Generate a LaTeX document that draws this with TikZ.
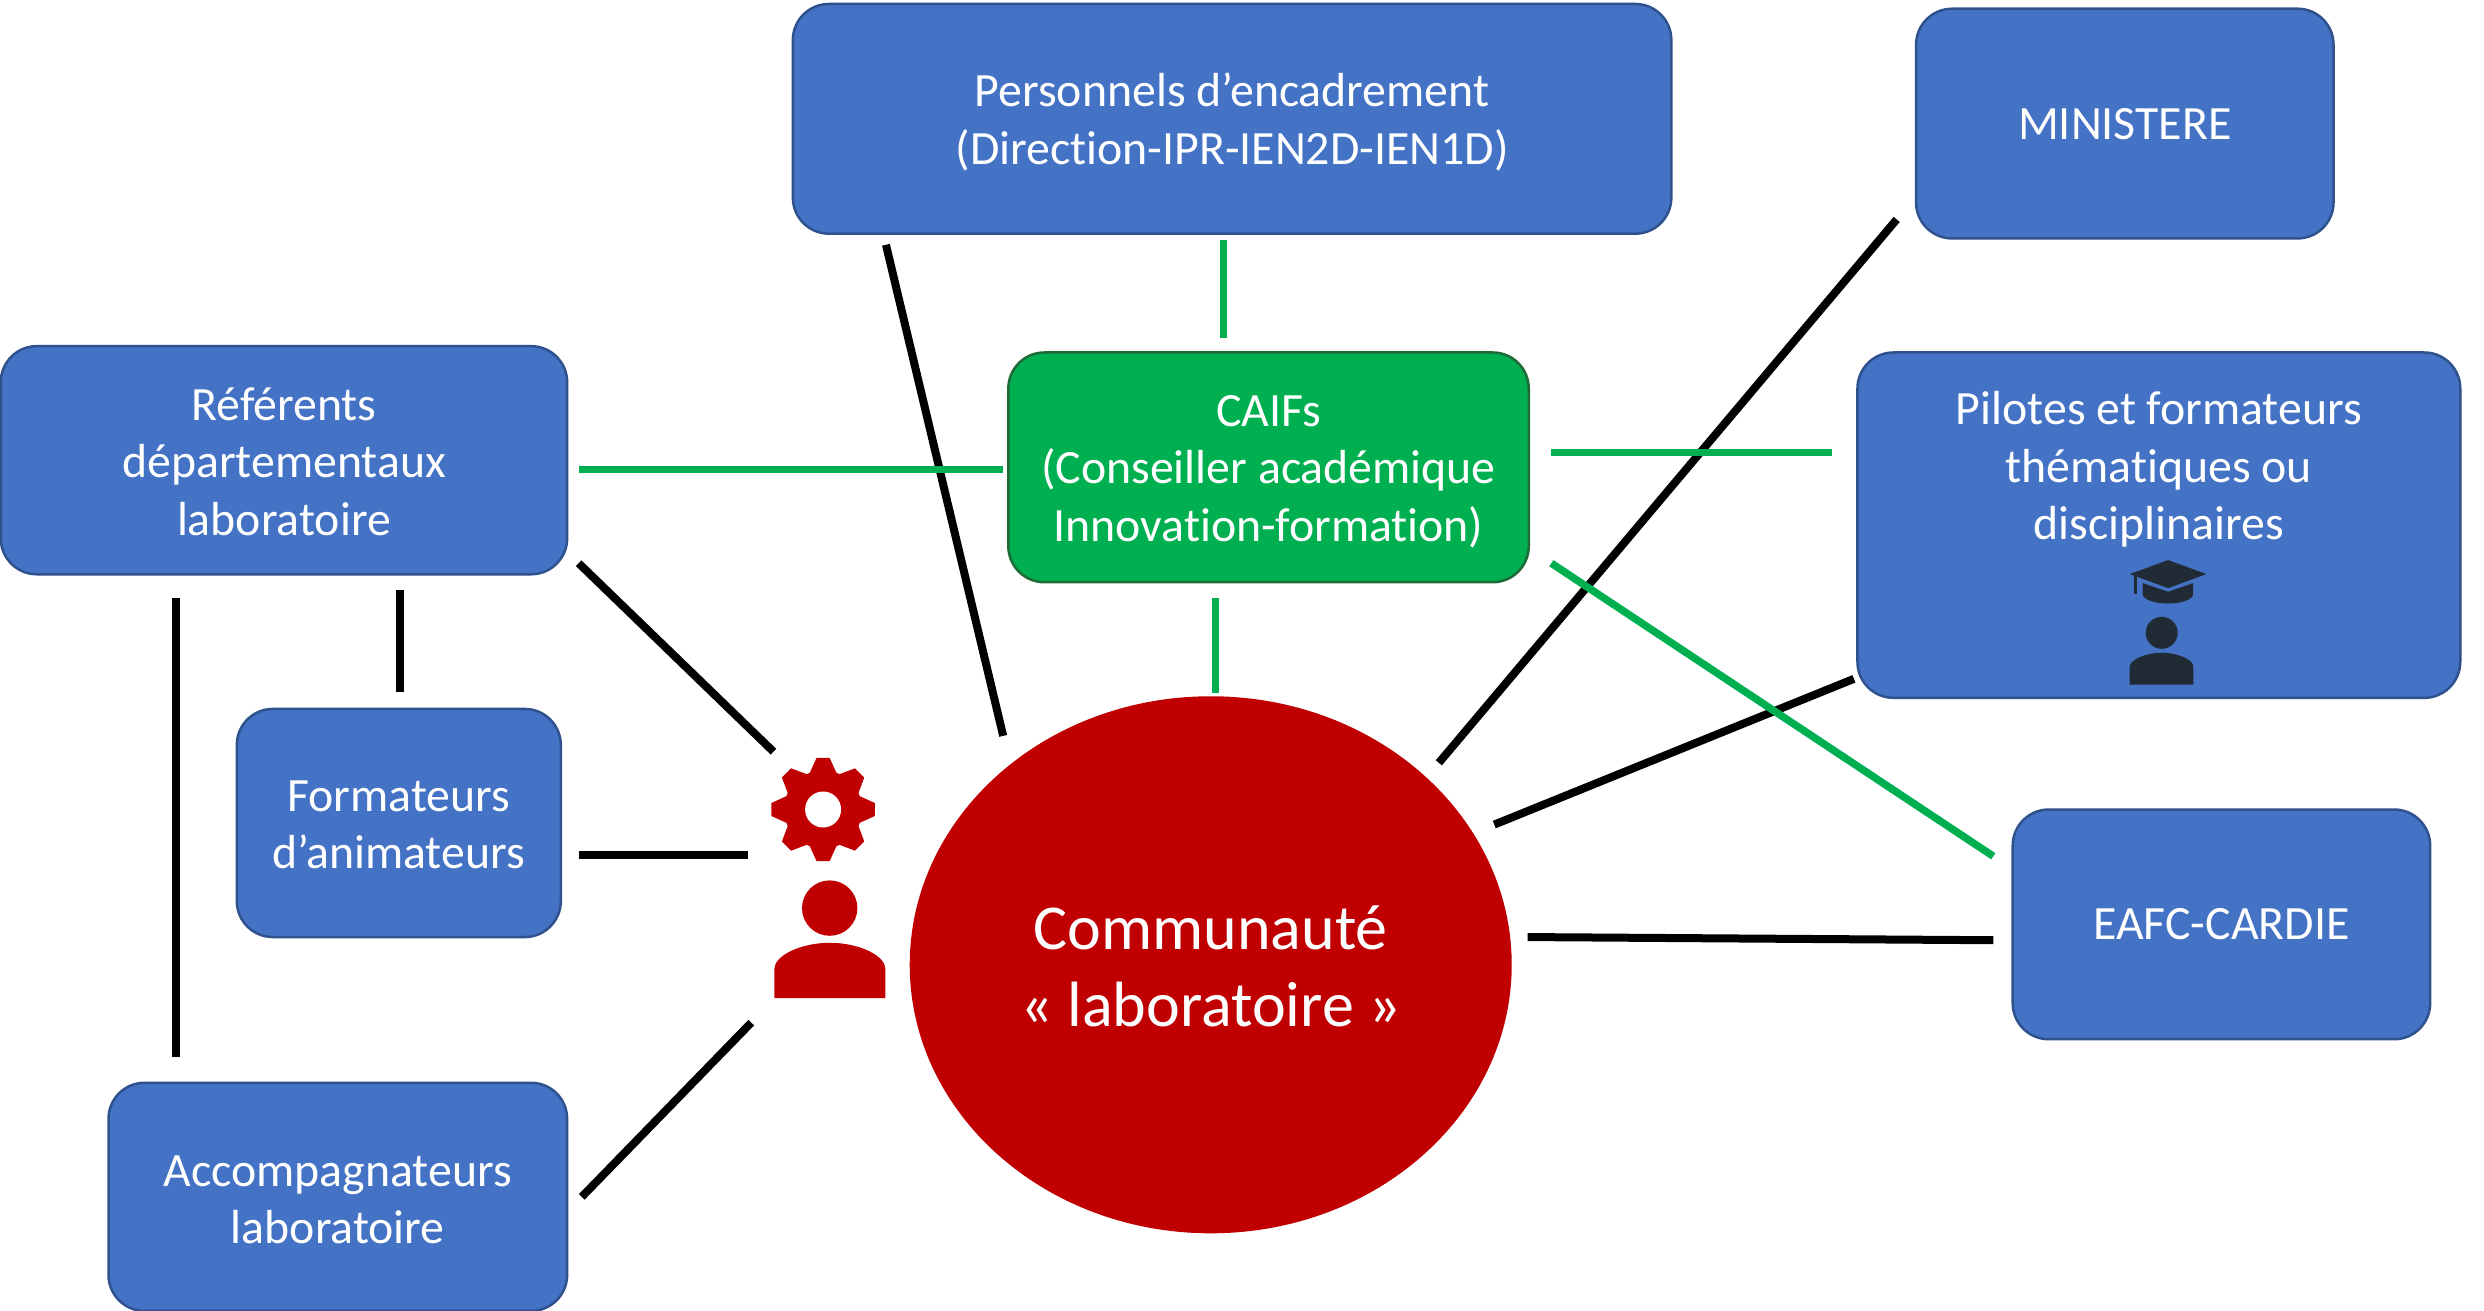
\documentclass[tikz,border=0pt]{standalone}
\usepackage{fontspec}
\setmainfont[Ligatures=CommonOff]{Carlito}
\usetikzlibrary{shapes.geometric}
\definecolor{bluefill}{HTML}{4472C4}
\definecolor{blueedge}{HTML}{2F528F}
\definecolor{greenfill}{HTML}{00B050}
\definecolor{greenedge}{HTML}{1E6B38}
\definecolor{redfill}{HTML}{C00000}
\definecolor{icondark}{HTML}{212B36}
\tikzset{
  textpos/.style={text height=#1pt,text depth=0pt},
  labeltext/.style={text=white,align=center,inner sep=0pt,outer sep=0pt,font=\fontsize{47.8}{57.5}\selectfont},
  box/.style n args={2}{labeltext,draw=blueedge,fill=bluefill,line width=2.5pt,rounded corners=36pt,
    minimum width=#1*1.5842pt,minimum height=#2*1.5842pt},
  greenbox/.style n args={2}{box={#1}{#2},draw=greenedge,fill=greenfill},
  blackline/.style={draw=black,line width=8pt},
  greenline/.style={draw=greenfill,line width=7.5pt},
}
\begin{document}
\begin{tikzpicture}[x=1.5842pt,y=-1.5842pt]
\useasboundingbox (-0.25,-0.5) rectangle (1567.75,827.05);
\node[box={554.5}{145},textpos=91] (pers) at (777.5,74.5) {Personnels d’encadrement\\(Direction-IPR-IEN2D-IEN1D)};
\node[box={263.5}{145},textpos=32] (mini) at (1341,77.5) {MINISTERE};
\node[box={357.5}{144},textpos=150] (ref) at (179,290) {Référents\\départementaux\\laboratoire};
\node[greenbox={328.5}{145},textpos=148] (caif) at (800.5,294.5) {CAIFs\\(Conseiller académique\\Innovation-formation)};
\node[box={380.5}{218}] (pil) at (1362.5,331) {};
\node[labeltext,textpos=143.3] (piltxt) at (1362.5,295) {Pilotes et formateurs\\thématiques ou\\disciplinaires};
\node[box={204.5}{144},textpos=91] (form) at (251.5,519) {Formateurs\\d’animateurs};
\node[box={263.5}{145},textpos=30] (eafc) at (1402,583) {EAFC-CARDIE};
\node[box={289.5}{144},textpos=94] (acc) at (213,755) {Accompagnateurs\\laboratoire};
\node[ellipse,fill=redfill,minimum width=380*1.5842pt,minimum height=339*1.5842pt,inner sep=0pt,outer sep=0pt,
  text=white,align=center,font=\fontsize{64}{77}\selectfont,textpos=124] (comm) at (764,608.5) {Communauté\\« laboratoire »};
\coordinate (icon) at (523,555);
% red icon
\begin{scope}[x=1pt,y=-1pt]
  \fill[redfill] (822.7,808.7) circle[radius=39];
  \foreach \a in {0,45,...,315}{
    \fill[redfill,shift={(822.7,808.7)},rotate=\a] (-15,-33) -- (-6.5,-51.7) -- (6.5,-51.7) -- (15,-33) -- cycle;
  }
  \fill[white] (822.7,808.7) circle[radius=18];
  \fill[redfill] (829.3,907.3) circle[radius=27.7];
  \fill[redfill] (774,997.3) -- (774,968) .. controls (774,955) and (800,942) .. (829.5,942)
     .. controls (859,942) and (885,955) .. (885,968) -- (885,997.3) -- cycle;
  % graduate icon
  \fill[icondark] (2167.7,559.3) -- (2206,573.3) -- (2167.7,587.3) -- (2129.3,573.3) -- cycle;
  \fill[icondark] (2133.3,574) rectangle (2136.7,593);
  \fill[icondark] (2142.3,582.3) -- (2167.7,591) -- (2192.7,582.3) -- (2192.7,593.3)
     .. controls (2192.7,599) and (2180,602.7) .. (2167.7,602.7)
     .. controls (2155,602.7) and (2142.3,599) .. (2142.3,593.3) -- cycle;
  \fill[icondark] (2161.3,632) circle[radius=16];
  \fill[icondark] (2129.3,683.7) -- (2129.3,666) .. controls (2129.3,659) and (2145,652) .. (2161.3,652)
     .. controls (2178,652) and (2193,659) .. (2193,666) -- (2193,683.7) -- cycle;
\end{scope}
% black connectors
\draw[blackline] ([shift={(-218.5,79.5)}]pers.center) -- ([shift={(-131,-144.5)}]comm.center);
\draw[blackline] ([shift={(-144,60.5)}]mini.center) -- ([shift={(144,-127.5)}]comm.center);
\draw[blackline] ([shift={(186,65)}]ref.center) -- ([shift={(-35,-81)}]icon);
\draw[blackline] ([shift={(73,82)}]ref.center) -- ([shift={(0.5,-83)}]form.center);
\draw[blackline] ([shift={(-68,87)}]ref.center) -- ([shift={(-102,-88)}]acc.center);
\draw[blackline] ([shift={(113.5,20)}]form.center) -- ([shift={(-51,-16)}]icon);
\draw[blackline] ([shift={(154,0)}]acc.center) -- ([shift={(-49,90)}]icon);
\draw[blackline] ([shift={(179,-88.5)}]comm.center) -- ([shift={(-192.5,97)}]pil.center);
\draw[blackline] ([shift={(200,-17.5)}]comm.center) -- ([shift={(-144,10)}]eafc.center);
% green connectors
\draw[greenline] ([shift={(186,6)}]ref.center) -- ([shift={(-167.5,1.5)}]caif.center);
\draw[greenline] ([shift={(-5.5,76.5)}]pers.center) -- ([shift={(-28.5,-81.5)}]caif.center);
\draw[greenline] ([shift={(-33.5,82.5)}]caif.center) -- ([shift={(3,-171.5)}]comm.center);
\draw[greenline] ([shift={(178.5,-9.5)}]caif.center) -- ([shift={(-206.5,-46)}]pil.center);
\draw[greenline] ([shift={(178.5,60.5)}]caif.center) -- ([shift={(-144,-43)}]eafc.center);
\end{tikzpicture}
\end{document}
